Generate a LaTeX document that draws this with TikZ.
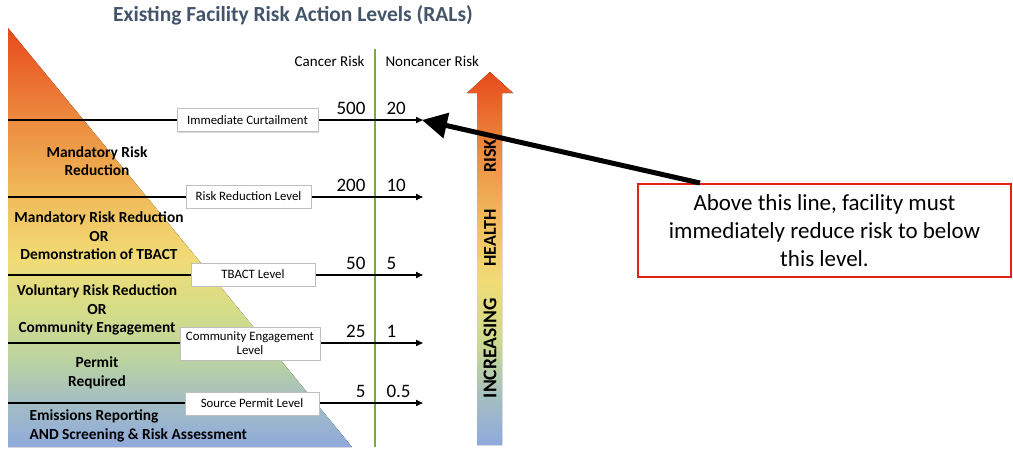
\documentclass[tikz,border=0pt]{standalone}
\usepackage{fontspec}
\setmainfont{Carlito}
\usetikzlibrary{arrows.meta,shadows}

\definecolor{titleblue}{HTML}{44546A}
\definecolor{axisgreen}{HTML}{70AD47}
\definecolor{alertred}{HTML}{E3211B}
% gradient stops, bottom to top
\definecolor{gA}{HTML}{8FAADC}
\definecolor{gB}{HTML}{A3BDC4}
\definecolor{gC}{HTML}{BBD3A0}
\definecolor{gD}{HTML}{D6DD88}
\definecolor{gE}{HTML}{F1DB76}
\definecolor{gF}{HTML}{F1BD5C}
\definecolor{gG}{HTML}{EC8B3F}
\definecolor{gH}{HTML}{E84A1B}

% the path's bounding box is mapped onto 25bp..75bp
\pgfdeclareverticalshading{pyramidfill}{100bp}{%
  color(0bp)=(gA); color(25bp)=(gA); color(30.25bp)=(gB); color(35.5bp)=(gC);
  color(41.5bp)=(gD); color(47.5bp)=(gE); color(54.5bp)=(gF);
  color(64bp)=(gG); color(75bp)=(gH); color(100bp)=(gH)}
\pgfdeclareverticalshading{arrowfill}{100bp}{%
  color(0bp)=(gA); color(25bp)=(gA); color(31bp)=(gB); color(39bp)=(gD!70!gC);
  color(47bp)=(gE); color(53.8bp)=(gF!80!gE); color(64.5bp)=(gG);
  color(75bp)=(gH); color(100bp)=(gH)}

\tikzset{
  levelline/.style={line width=1.6pt, -{Triangle[length=7pt,width=6pt]}},
  levelbox/.style={draw=black!25, line width=0.4pt, fill=white,
    drop shadow={shadow xshift=1.2pt, shadow yshift=-1.2pt, opacity=0.3},
    font=\fontsize{12.8}{14}\selectfont, align=center, inner sep=1pt},
  zonetext/.style={font=\fontsize{15.4}{18.5}\selectfont\bfseries, align=center},
  riskval/.style={font=\fontsize{19}{21}\selectfont, anchor=base},
  colhead/.style={font=\fontsize{15}{17}\selectfont, anchor=base},
  axistext/.style={font=\fontsize{18}{20}\selectfont\bfseries, rotate=90},
  pointer/.style={line width=5pt, -{Triangle[length=25pt,width=25pt]}},
}

\begin{document}
\begin{tikzpicture}[x=1pt,y=-1pt]
\useasboundingbox (0,0) rectangle (1013,450);

% title
\node[font=\fontsize{21.5}{24}\selectfont\bfseries, text=titleblue] (title) at (293,15)
  {Existing Facility Risk Action Levels (RALs)};

% shaded pyramid
\fill[shading=pyramidfill] (8,28) -- (352,447) -- (8,447) -- cycle;

% zone descriptions
\node[zonetext] (z1) at (97,161) {Mandatory Risk\\Reduction};
\node[zonetext] (z2) at (99,236) {Mandatory Risk Reduction\\OR\\Demonstration of TBACT};
\node[zonetext] (z3) at (97,310) {Voluntary Risk Reduction\\OR\\Community Engagement};
\node[zonetext] (z4) at (97,373) {Permit\\Required};
\node[zonetext, align=left, anchor=west] (z5) at (26,426)
  {Emissions Reporting\\AND Screening \& Risk Assessment};

% divider between the two risk columns
\coordinate (gtop) at (375,49);
\coordinate (gbot) at (375,447);
\draw[axisgreen, line width=1.6pt] (gtop) -- (gbot);
\node[colhead, anchor=base east] (ccol) at (368,66) {Cancer Risk};
\node[colhead, anchor=base west] (ncol) at (382,66) {Noncancer Risk};

% action level lines
\foreach \i/\y in {1/120, 2/197, 3/275, 4/343, 5/403} {
  \coordinate (s\i) at (8,\y);
  \coordinate (e\i) at (423,\y);
  \draw[levelline] (s\i) -- (e\i);
}

% level boxes
\node[levelbox, minimum width=141pt, minimum height=23pt] (b1) at (247.5,120) {Immediate Curtailment};
\node[levelbox, minimum width=125pt, minimum height=23pt] (b2) at (248.5,196.5) {Risk Reduction Level};
\node[levelbox, minimum width=124pt, minimum height=23pt] (b3) at (253,274.5) {TBACT Level};
\node[levelbox, minimum width=140pt, minimum height=33pt] (b4) at (250,343.5) {Community Engagement\\Level};
\node[levelbox, minimum width=134pt, minimum height=23pt] (b5) at (252,403.5) {Source Permit Level};

% threshold values
\foreach \i/\y/\c/\n in {1/120/500/20, 2/197/200/10, 3/275/50/5, 4/343/25/1, 5/403/5/0.5} {
  \node[riskval, anchor=base east] (c\i) at (369,\y-6) {\c};
  \node[riskval, anchor=base west] (n\i) at (383,\y-6) {\n};
}

% increasing health risk arrow
\fill[shading=arrowfill] (477,445) -- (477,93) -- (467,93) -- (490,72)
  -- (513,93) -- (502,93) -- (502,445) -- cycle;
\node[axistext] (ar1) at (490,156) {RISK};
\node[axistext] (ar2) at (490,238) {HEALTH};
\node[axistext, font=\fontsize{19.5}{21}\selectfont\bfseries] (ar3) at (490,348) {INCREASING};

% callout
\node[draw=alertred, line width=2.5pt, minimum width=373pt, minimum height=93pt,
  align=center, font=\fontsize{23}{28}\selectfont, inner sep=2pt] (note) at (824.5,230.5)
  {Above this line, facility must\\immediately reduce risk to below\\this level.};
\coordinate (ptr) at (700,183);
\coordinate (ptrtip) at (422,120);
\draw[pointer] (ptr) -- (ptrtip);
\end{tikzpicture}
\end{document}
